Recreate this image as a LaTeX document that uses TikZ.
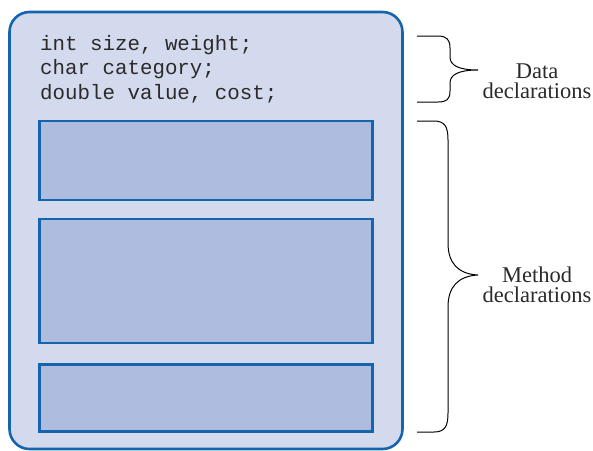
\documentclass[tikz,border=0pt]{standalone}
\usepackage{fontspec}
\setmainfont{Liberation Serif}
\newfontfamily\codefont{Liberation Mono}
\definecolor{edgeblue}{HTML}{1565AE}
\definecolor{classfill}{HTML}{D4DAEE}
\definecolor{methodfill}{HTML}{AEBCE0}
\definecolor{codeink}{HTML}{2A2A2A}
\tikzset{
  classbox/.style={draw=edgeblue, line width=2.6pt, fill=classfill, rounded corners=20pt},
  methodbox/.style={draw=edgeblue, line width=2.4pt, fill=methodfill},
  codeline/.style={anchor=base west, inner sep=0pt, text=codeink, font=\codefont\fontsize{20.8pt}{24pt}\selectfont},
  bracelabel/.style={anchor=base, inner sep=0pt, text=codeink, font=\fontsize{22.5pt}{24pt}\selectfont},
  bracepath/.style={draw=black, line width=1pt}
}
\begin{document}
\begin{tikzpicture}[x=1pt, y=-1pt]
  \useasboundingbox (0,0) rectangle (593,450);

  % class outline and method slots
  \path[classbox] (9.5,12) rectangle (402.5,449);
  \node[methodbox, minimum width=333pt, minimum height=79pt, inner sep=0pt] (m1) at (206,160.5) {};
  \node[methodbox, minimum width=333pt, minimum height=124pt, inner sep=0pt] (m2) at (206,281) {};
  \node[methodbox, minimum width=333pt, minimum height=67pt, inner sep=0pt] (m3) at (206,398) {};

  % data declarations
  \node[codeline] (c1) at (40,50) {int size, weight;};
  \node[codeline] (c2) at (40,74.5) {char category;};
  \node[codeline] (c3) at (40,99) {double value, cost;};

  % braces
  \coordinate (dtip) at (478,70);
  \coordinate (mtip) at (478,275);
  \path[bracepath] (417,36) -- (438,36) .. controls (447,36) and (450,40) .. (450,48)
    -- (450,57) .. controls (450,65) and (458,70) .. (dtip)
    .. controls (458,70) and (450,75) .. (450,83)
    -- (450,91) .. controls (450,99) and (447,102) .. (438,102) -- (417,102);
  \path[bracepath] (417,121) -- (434,121) .. controls (445,121) and (448,127) .. (448,140)
    -- (448,243) .. controls (448,263) and (458,274) .. (mtip)
    .. controls (458,276) and (448,287) .. (448,307)
    -- (448,413) .. controls (448,426) and (445,432) .. (434,432) -- (417,432);

  % labels
  \node[bracelabel] (d1) at (537,78) {Data};
  \node[bracelabel] (d2) at (537,98.5) {declarations};
  \node[bracelabel] (t1) at (537,282) {Method};
  \node[bracelabel] (t2) at (537,302.5) {declarations};
\end{tikzpicture}
\end{document}
